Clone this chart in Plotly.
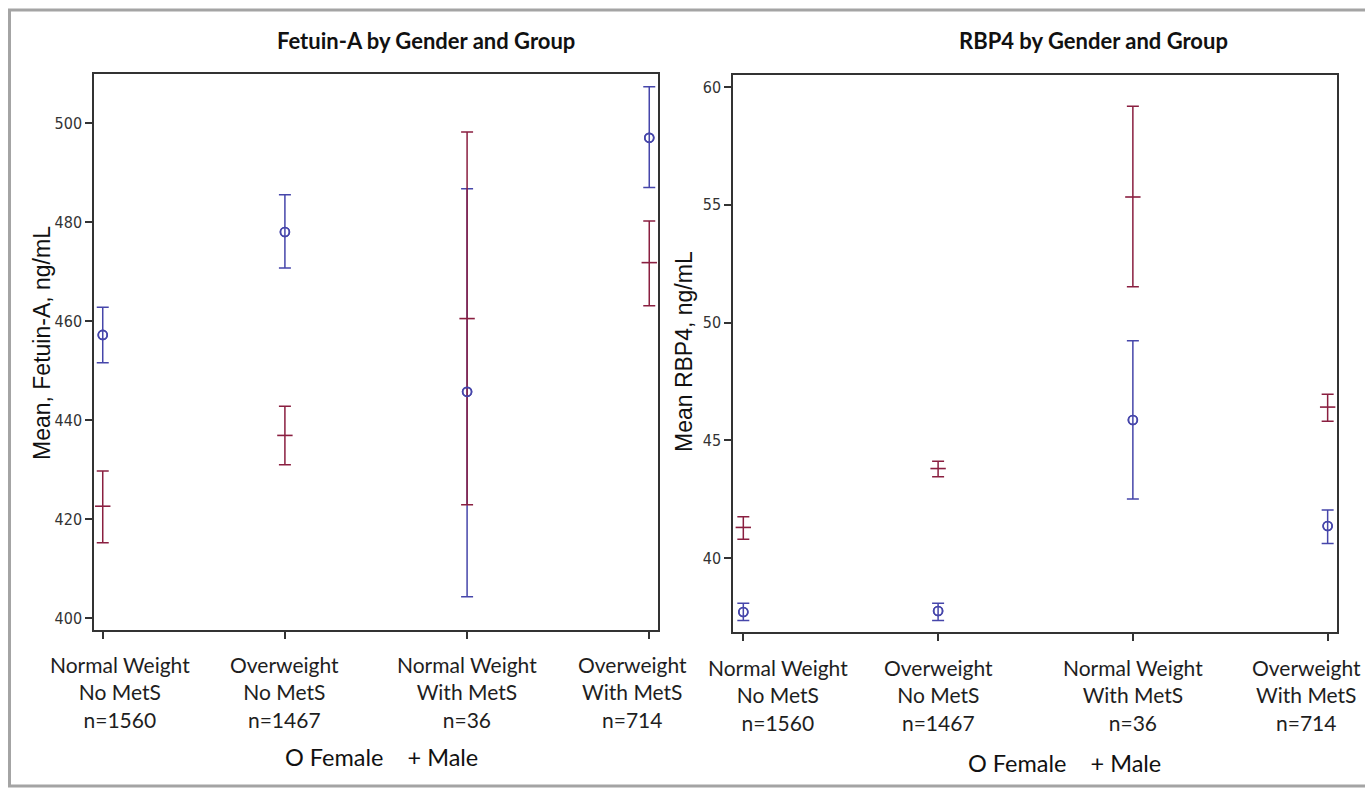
import plotly.graph_objects as go

W, H = 1365, 789

# ---------------- data ----------------
positions = [1, 2, 3, 4]
group_labels = [
    "Normal Weight<br>No MetS<br>n=1560",
    "Overweight<br>No MetS<br>n=1467",
    "Normal Weight<br>With MetS<br>n=36",
    "Overweight<br>With MetS<br>n=714",
]

fetuin_female_mean = [457.2, 478.0, 445.7, 497.0]
fetuin_female_lo = [451.6, 470.7, 404.3, 487.0]
fetuin_female_hi = [462.8, 485.5, 486.7, 507.3]
fetuin_male_mean = [422.6, 436.9, 460.5, 471.8]
fetuin_male_lo = [415.2, 431.0, 422.9, 463.1]
fetuin_male_hi = [429.7, 442.8, 498.2, 480.2]
fetuin_ticks = [400, 420, 440, 460, 480, 500]

rbp4_female_mean = [37.71, 37.75, 45.86, 41.36]
rbp4_female_lo = [37.35, 37.35, 42.51, 40.62]
rbp4_female_hi = [38.08, 38.08, 49.23, 42.04]
rbp4_male_mean = [41.30, 43.80, 55.33, 46.41]
rbp4_male_lo = [40.80, 43.45, 51.52, 45.81]
rbp4_male_hi = [41.75, 44.11, 59.18, 46.95]
rbp4_ticks = [40, 45, 50, 55, 60]

# ---------------- style ----------------
BLUE = "#4646aa"
RED = "#8a1f40"
AXC = "#333333"
CAT_FONT = dict(family="Lato, 'Open Sans', sans-serif", size=21, color="#1e1e1e")
NUM_FONT = dict(family="'Liberation Sans Narrow', 'Arial Narrow', 'DejaVu Sans Condensed', 'Liberation Sans', sans-serif",
                size=16, color="#333333")
# horizontal nudges (px) of the category labels, as the source software shifts edge labels inward
left_label_shift = [17, 0, 0, -17]
right_label_shift = [35, 0, 0, -21]


def px_x(p):
    return p / W


def px_y(p):
    return 1 - p / H


def err(mean, lo, hi):
    return [h - m for m, h in zip(mean, hi)], [m - l for m, l in zip(mean, lo)]


fig = go.Figure()


def add_panel(xa, ya, fmean, flo, fhi, mmean, mlo, mhi):
    fp, fm = err(fmean, flo, fhi)
    mp, mm = err(mmean, mlo, mhi)
    fig.add_trace(go.Scatter(
        x=positions, y=fmean, xaxis=xa, yaxis=ya, mode="markers",
        marker=dict(symbol="circle-open", size=9, color=BLUE, line=dict(width=1.6, color=BLUE)),
        error_y=dict(type="data", array=fp, arrayminus=fm, color=BLUE, thickness=1.5, width=6),
        showlegend=False, name="Female"))
    fig.add_trace(go.Scatter(
        x=positions, y=mmean, xaxis=xa, yaxis=ya, mode="markers",
        marker=dict(symbol="line-ew", size=11, color=RED, line=dict(width=1.6, color=RED)),
        error_y=dict(type="data", array=mp, arrayminus=mm, color=RED, thickness=1.5, width=6),
        showlegend=False, name="Male"))
    fig.add_trace(go.Scatter(
        x=positions, y=fmean, xaxis=xa, yaxis=ya, mode="markers",
        marker=dict(symbol="circle-open", size=9, color=BLUE, line=dict(width=1.6, color=BLUE)),
        showlegend=False, name="Female", hoverinfo="skip"))


add_panel("x", "y", fetuin_female_mean, fetuin_female_lo, fetuin_female_hi,
          fetuin_male_mean, fetuin_male_lo, fetuin_male_hi)
add_panel("x2", "y2", rbp4_female_mean, rbp4_female_lo, rbp4_female_hi,
          rbp4_male_mean, rbp4_male_lo, rbp4_male_hi)

axis_common = dict(showline=True, mirror=True, linecolor=AXC, linewidth=1.5,
                   ticks="outside", ticklen=7, tickwidth=1.5, tickcolor=AXC,
                   showgrid=False, zeroline=False, fixedrange=True)

fig.update_layout(
    width=W, height=H,
    margin=dict(l=0, r=0, t=0, b=0, autoexpand=False),
    paper_bgcolor="white", plot_bgcolor="white",
    xaxis=dict(domain=[px_x(94), px_x(658)], range=[0.952, 4.048],
               tickvals=positions, showticklabels=False, anchor="y", **axis_common),
    yaxis=dict(domain=[px_y(630), px_y(74)], range=[397.6, 509.9],
               tickvals=fetuin_ticks, tickfont=NUM_FONT, anchor="x", **axis_common),
    xaxis2=dict(domain=[px_x(733), px_x(1337)], range=[0.947, 4.048],
                tickvals=positions, showticklabels=False, anchor="y2", **axis_common),
    yaxis2=dict(domain=[px_y(632), px_y(75)], range=[36.86, 60.51],
                tickvals=rbp4_ticks, tickfont=NUM_FONT, anchor="x2", **axis_common),
)

# category labels under each panel
for xr, top, shifts in (("x", 650, left_label_shift), ("x2", 653, right_label_shift)):
    for pos, lab, dx in zip(positions, group_labels, shifts):
        fig.add_annotation(x=pos, y=px_y(top), xref=xr, yref="paper", text=lab,
                           showarrow=False, xanchor="center", yanchor="top",
                           xshift=dx, align="center", font=CAT_FONT)

TITLE_FONT = dict(family="Lato, 'Open Sans', sans-serif", size=22, color="#111111")
YT_FONT = dict(family="'Liberation Sans', Arial, sans-serif", size=23, color="#111111")
LEG_FONT = dict(family="Lato, 'Open Sans', sans-serif", size=23.5, color="#111111")

annots = [
    dict(text="<b>Fetuin-A by Gender and Group</b>", x=px_x(426), y=px_y(40), font=TITLE_FONT),
    dict(text="<b>RBP4 by Gender and Group</b>", x=px_x(1093), y=px_y(40), font=TITLE_FONT),
    dict(text="Mean, Fetuin-A, ng/mL", x=px_x(42), y=px_y(343), textangle=-90, font=YT_FONT),
    dict(text="Mean RBP4, ng/mL", x=px_x(684), y=px_y(352), textangle=-90, font=YT_FONT),
    dict(text="O Female &nbsp;&nbsp; + Male", x=px_x(381), y=px_y(757), font=LEG_FONT),
    dict(text="O Female &nbsp;&nbsp; + Male", x=px_x(1064), y=px_y(763), font=LEG_FONT),
]
for a in annots:
    fig.add_annotation(xref="paper", yref="paper", showarrow=False,
                       xanchor="center", yanchor="middle", **a)

# outer grey frame of the picture (right edge cut off)
fig.add_shape(type="rect", xref="paper", yref="paper",
              x0=px_x(9.5), x1=1.02, y0=px_y(786), y1=px_y(10),
              line=dict(color="#a4a4a4", width=3), fillcolor="rgba(0,0,0,0)", layer="below")

fig.write_html("out.html", config={"displayModeBar": False},
               post_script="document.body.style.margin='0';document.body.style.overflow='hidden';")
